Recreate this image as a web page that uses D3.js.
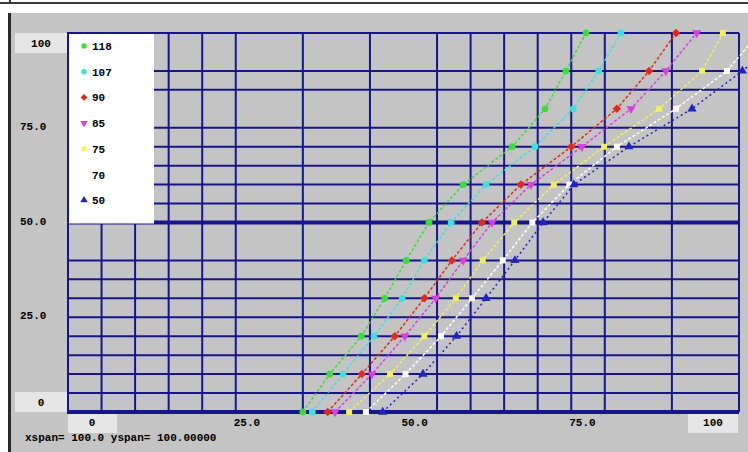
<!DOCTYPE html>
<html>
<head>
<meta charset="utf-8">
<script src="https://cdn.jsdelivr.net/npm/d3@7"></script>
<style>
  body { margin: 0; background: #fff; }
  svg { display: block; }
  text { font-family: 'Liberation Mono', 'DejaVu Sans Mono', monospace; font-weight: bold; font-size: 11px; fill: #000; }
</style>
</head>
<body>
<div id="chart"></div>
<script>
// Legend labels, one per series
const seriesNames = ['118', '107', '90', '85', '75', '70', '50'];
const seriesColors = ['#3ddc3d', '#3fdfe0', '#e02a1e', '#dd3ee0', '#f2f05a', '#ffffff', '#1f24c2'];

// Every series has a point at these y values
const yLevels = [0, 10, 20, 30, 40, 50, 60, 70, 80, 90, 100];

// x value of each point
const s118 = [35.0, 39.0, 43.7, 47.2, 50.4, 53.8, 58.9, 66.2, 71.1, 74.2, 77.2];
const s107 = [36.4, 41.0, 45.6, 49.8, 53.1, 57.1, 62.3, 69.6, 75.3, 79.1, 82.4];
const s90  = [38.7, 43.8, 48.7, 53.1, 57.2, 61.7, 67.5, 75.0, 81.8, 86.6, 90.6];
const s85  = [39.8, 45.3, 50.2, 54.8, 58.9, 63.2, 69.0, 76.6, 83.9, 89.1, 93.7];
const s75  = [41.9, 48.0, 53.1, 57.8, 61.8, 66.5, 72.4, 79.9, 88.1, 94.5, 97.6];
const s70  = [44.4, 50.3, 55.6, 60.2, 64.8, 69.2, 74.7, 81.8, 90.6, 98.2, 103.0];
const s50  = [46.9, 52.9, 57.9, 62.3, 66.6, 70.8, 75.4, 83.6, 93.0, 100.5, 107.5];

// Grid lines as drawn in the original (not evenly spaced)
const xGrid = [0, 5, 10, 15, 20, 25, 35, 45, 55, 60, 65, 70, 75, 80, 90, 100];
const yGrid = [0, 5, 10, 15, 20, 25, 30, 35, 40, 50, 55, 60, 65, 70, 75, 85, 90, 100];
const yHeavy = [0, 50];

// Tick labels
const xTicks = [0, 25, 50, 75, 100];
const xTickLabels = ['0', '25.0', '50.0', '75.0', '100'];
const yTicks = [0, 25, 50, 75, 100];
const yTickLabels = ['0', '25.0', '50.0', '75.0', '100'];

const footer = 'xspan= 100.0 yspan= 100.00000';

const W = 748, H = 452;
const plot = { left: 68, right: 739, top: 33, bottom: 412 };

const svg = d3.select('#chart')
    .append('svg')
    .attr('width', W)
    .attr('height', H);

const x = d3.scaleLinear().domain([0, 100]).range([plot.left, plot.right]);
const y = d3.scaleLinear().domain([0, 100]).range([plot.bottom, plot.top]);

// frame: top rule, grey panel, dark left edge
svg.append('rect').attr('x', 0).attr('y', 0).attr('width', W).attr('height', H).attr('fill', '#fff');
svg.append('rect').attr('x', 0).attr('y', 2).attr('width', W).attr('height', 2).attr('fill', '#3a3a3a');
svg.append('rect').attr('x', 9).attr('y', 0).attr('width', 2).attr('height', 3).attr('fill', '#3a3a3a');
svg.append('rect').attr('x', 11).attr('y', 13).attr('width', W - 11).attr('height', H - 13).attr('fill', '#c4c4c4');
svg.append('rect').attr('x', 8).attr('y', 13).attr('width', 3).attr('height', H - 13).attr('fill', '#2a2a2a');

// grid
const grid = svg.append('g').attr('stroke', '#16168a');
grid.selectAll('.vgrid')
    .data(xGrid)
    .enter()
    .append('line')
    .attr('x1', d => x(d)).attr('x2', d => x(d))
    .attr('y1', plot.top).attr('y2', plot.bottom)
    .attr('stroke-width', 2);
grid.selectAll('.hgrid')
    .data(yGrid)
    .enter()
    .append('line')
    .attr('x1', plot.left - 1).attr('x2', plot.right)
    .attr('y1', d => y(d)).attr('y2', d => y(d))
    .attr('stroke-width', d => yHeavy.includes(d) ? 4 : 2);

// legend box sits on the grid
const legend = svg.append('g');
legend.append('rect')
    .attr('x', x(0) + 1)
    .attr('y', y(100) + 1)
    .attr('width', 85)
    .attr('height', y(50) - y(100))
    .attr('fill', '#fff');

// axis label boxes at the ends
svg.append('rect').attr('x', 15).attr('y', y(100)).attr('width', 52).attr('height', 20).attr('fill', '#e6e6e6');
svg.append('rect').attr('x', 15).attr('y', y(0) - 20).attr('width', 52).attr('height', 20).attr('fill', '#e6e6e6');
svg.append('rect').attr('x', x(0)).attr('y', y(0) + 2).attr('width', 49).attr('height', 19).attr('fill', '#e6e6e6');
svg.append('rect').attr('x', x(100) - 51).attr('y', y(0) + 2).attr('width', 50).attr('height', 19).attr('fill', '#e6e6e6');

// y labels
svg.selectAll('.ylab')
    .data(yTicks)
    .enter()
    .append('text')
    .attr('x', (d, i) => (i === 0 || i === yTicks.length - 1) ? 41 : 20)
    .attr('y', (d, i) => i === 0 ? y(d) - 6 : i === yTicks.length - 1 ? y(d) + 14 : y(d) + 2)
    .attr('text-anchor', (d, i) => (i === 0 || i === yTicks.length - 1) ? 'middle' : 'start')
    .text((d, i) => yTickLabels[i]);

// x labels
svg.selectAll('.xlab')
    .data(xTicks)
    .enter()
    .append('text')
    .attr('x', (d, i) => i === 0 ? x(d) + 24 : i === xTicks.length - 1 ? x(d) - 26 : x(d) - 2)
    .attr('y', y(0) + 14)
    .attr('text-anchor', (d, i) => (i === 0 || i === xTicks.length - 1) ? 'middle' : 'start')
    .text((d, i) => xTickLabels[i]);

svg.append('text')
    .attr('x', 25)
    .attr('y', 441)
    .text(footer);

// series
const seriesValues = [s118, s107, s90, s85, s75, s70, s50];
const symbols = [d3.symbolCircle, d3.symbolCircle, d3.symbolSquare, d3.symbolTriangle,
                 d3.symbolSquare, d3.symbolSquare, d3.symbolTriangle];
const turns = [0, 0, 45, 180, 0, 0, 0];

const series = seriesNames.map((name, i) => ({
    name,
    color: seriesColors[i],
    symbol: symbols[i],
    turn: turns[i],
    points: seriesValues[i].map((v, j) => ({ x: v, y: yLevels[j] }))
}));

const line = d3.line().x(d => x(d.x)).y(d => y(d.y));

const sg = svg.selectAll('.series')
    .data(series)
    .enter()
    .append('g');

sg.append('path')
    .attr('d', d => line(d.points))
    .attr('fill', 'none')
    .attr('stroke', d => d.color)
    .attr('stroke-width', 1.5)
    .attr('stroke-dasharray', (d, i) => i === 6 ? '2,3' : '3,2');

sg.selectAll('.pt')
    .data(d => d.points.map(p => ({ ...p, s: d })))
    .enter()
    .append('path')
    .attr('transform', d => `translate(${x(d.x)},${y(d.y)}) rotate(${d.s.turn})`)
    .attr('d', d => d3.symbol().type(d.s.symbol).size(36)())
    .attr('fill', d => d.s.color);

// legend entries
const le = legend.selectAll('.entry')
    .data(series)
    .enter()
    .append('g')
    .attr('transform', (d, i) => `translate(84,${46 + i * 25.7})`);

le.append('path')
    .attr('d', d => d3.symbol().type(d.symbol).size(24)())
    .attr('transform', d => `rotate(${d.turn})`)
    .attr('fill', d => d.color);

le.append('text')
    .attr('x', 8)
    .attr('y', 4)
    .text(d => d.name);
</script>
</body>
</html>
